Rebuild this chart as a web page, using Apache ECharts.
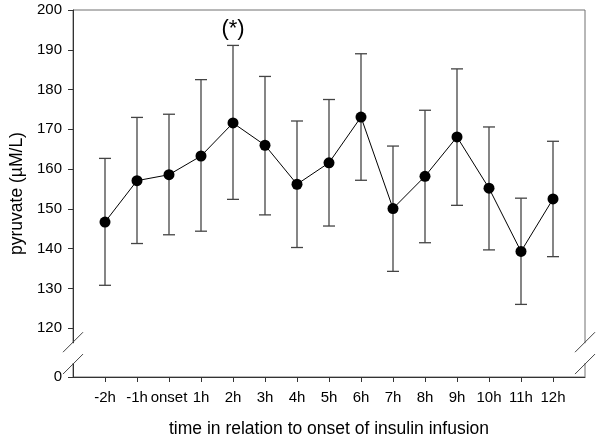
<!DOCTYPE html>
<html>
<head>
<meta charset="utf-8">
<script src="https://cdn.jsdelivr.net/npm/echarts@6/dist/echarts.min.js"></script>
<style>html,body{margin:0;padding:0;background:#fff}#c{width:600px;height:443px}</style>
</head>
<body>
<div id="c"></div>
<script>
const categories = ['-2h','-1h','onset','1h','2h','3h','4h','5h','6h','7h','8h','9h','10h','11h','12h'];
const meanValues  = [146.7,157.1,158.6,163.3,171.6,166.0,156.2,161.6,173.1,150.1,158.2,168.1,155.2,139.3,152.5];
const lowerValues = [130.8,141.3,143.5,144.4,152.4,148.5,140.3,145.7,157.2,134.3,141.5,150.9,139.7,126.0,138.0];
const upperValues = [162.7,173.0,173.8,182.5,191.1,183.3,172.1,177.5,189.0,165.8,174.8,185.2,170.6,152.7,167.0];
// broken y axis: the bottom of the axis stands for 0, then 120..200
const yAxisBottom = 107.75;
const yTickValues = [107.75,120,130,140,150,160,170,180,190,200];
const yTickLabels = ['0','120','130','140','150','160','170','180','190','200'];
const breakMarks = [111, 116.5]; // axis values where the break slashes cross
const annotation = {category: '2h', value: 191.1, text: '(*)'};

const FONT = "'Liberation Sans', Arial, sans-serif";
const chart = echarts.init(document.getElementById('c'));
const xIdx = categories.map((c, i) => i);
const lineData = meanValues.map((v, i) => [i, v]);
const errData = xIdx.map(i => [i, lowerValues[i], upperValues[i]]);
const annIdx = categories.indexOf(annotation.category);

chart.setOption({
  animation: false,
  grid: {left: 71, right: 15, top: 10, bottom: 64, show: true, borderColor: '#707070', borderWidth: 1, backgroundColor: 'transparent'},
  xAxis: {
    type: 'value', min: -1, max: categories.length,
    name: 'time in relation to onset of insulin infusion',
    nameLocation: 'middle', nameGap: 43,
    nameTextStyle: {fontFamily: FONT, fontSize: 17.5, color: '#000'},
    splitLine: {show: false},
    axisLine: {onZero: false, lineStyle: {color: '#333', width: 1}},
    axisTick: {customValues: xIdx, length: 5, lineStyle: {color: '#333'}},
    axisLabel: {customValues: xIdx, formatter: v => categories[v], fontFamily: FONT, fontSize: 15, color: '#000', margin: 13}
  },
  yAxis: {
    type: 'value', min: yAxisBottom, max: 200,
    name: 'pyruvate (µM/L)',
    nameLocation: 'middle', nameGap: 47,
    nameTextStyle: {fontFamily: FONT, fontSize: 17.5, color: '#000'},
    splitLine: {show: false},
    axisLine: {onZero: false, lineStyle: {color: '#333', width: 1}},
    axisTick: {customValues: yTickValues, length: 5, lineStyle: {color: '#333'}},
    axisLabel: {customValues: yTickValues, formatter: v => yTickLabels[yTickValues.indexOf(v)], fontFamily: FONT, fontSize: 15, color: '#000', margin: 11}
  },
  series: [
    {
      type: 'custom', z: 2, data: errData,
      encode: {x: 0, y: [1, 2]},
      renderItem: (params, api) => {
        const x = api.value(0);
        const pLo = api.coord([x, api.value(1)]);
        const pHi = api.coord([x, api.value(2)]);
        const hw = 6;
        const st = {stroke: '#444', lineWidth: 1.3};
        return {type: 'group', children: [
          {type: 'line', shape: {x1: pHi[0], y1: pHi[1], x2: pLo[0], y2: pLo[1]}, style: st},
          {type: 'line', shape: {x1: pHi[0]-hw, y1: pHi[1], x2: pHi[0]+hw, y2: pHi[1]}, style: st},
          {type: 'line', shape: {x1: pLo[0]-hw, y1: pLo[1], x2: pLo[0]+hw, y2: pLo[1]}, style: st}
        ]};
      }
    },
    {
      type: 'line', z: 3, data: lineData,
      symbol: 'circle', symbolSize: 11,
      itemStyle: {color: '#000'},
      lineStyle: {color: '#000', width: 1},
      markPoint: {
        symbol: 'circle', symbolSize: 1, itemStyle: {color: 'transparent'},
        label: {show: true, position: 'top', distance: 5, formatter: annotation.text, fontFamily: FONT, fontSize: 22, color: '#000'},
        data: [{coord: [annIdx, annotation.value]}]
      }
    }
  ]
});

// axis-break decorations on the left and right vertical axes
const xL = chart.convertToPixel({gridIndex: 0}, [-1, yAxisBottom])[0];
const xR = chart.convertToPixel({gridIndex: 0}, [categories.length, yAxisBottom])[0];
const yLo = chart.convertToPixel({gridIndex: 0}, [0, breakMarks[0]])[1];
const yHi = chart.convertToPixel({gridIndex: 0}, [0, breakMarks[1]])[1];
const g = [];
[xL, xR].forEach(x => {
  g.push({type: 'rect', z: 100, shape: {x: x - 3, y: yHi + 1, width: 6, height: yLo - yHi - 2}, style: {fill: '#fff'}});
  [yHi, yLo].forEach(y => {
    g.push({type: 'line', z: 101, shape: {x1: x - 10, y1: y + 10, x2: x + 10, y2: y - 10}, style: {stroke: '#444', lineWidth: 1}});
  });
});
chart.setOption({graphic: g});
</script>
</body>
</html>
